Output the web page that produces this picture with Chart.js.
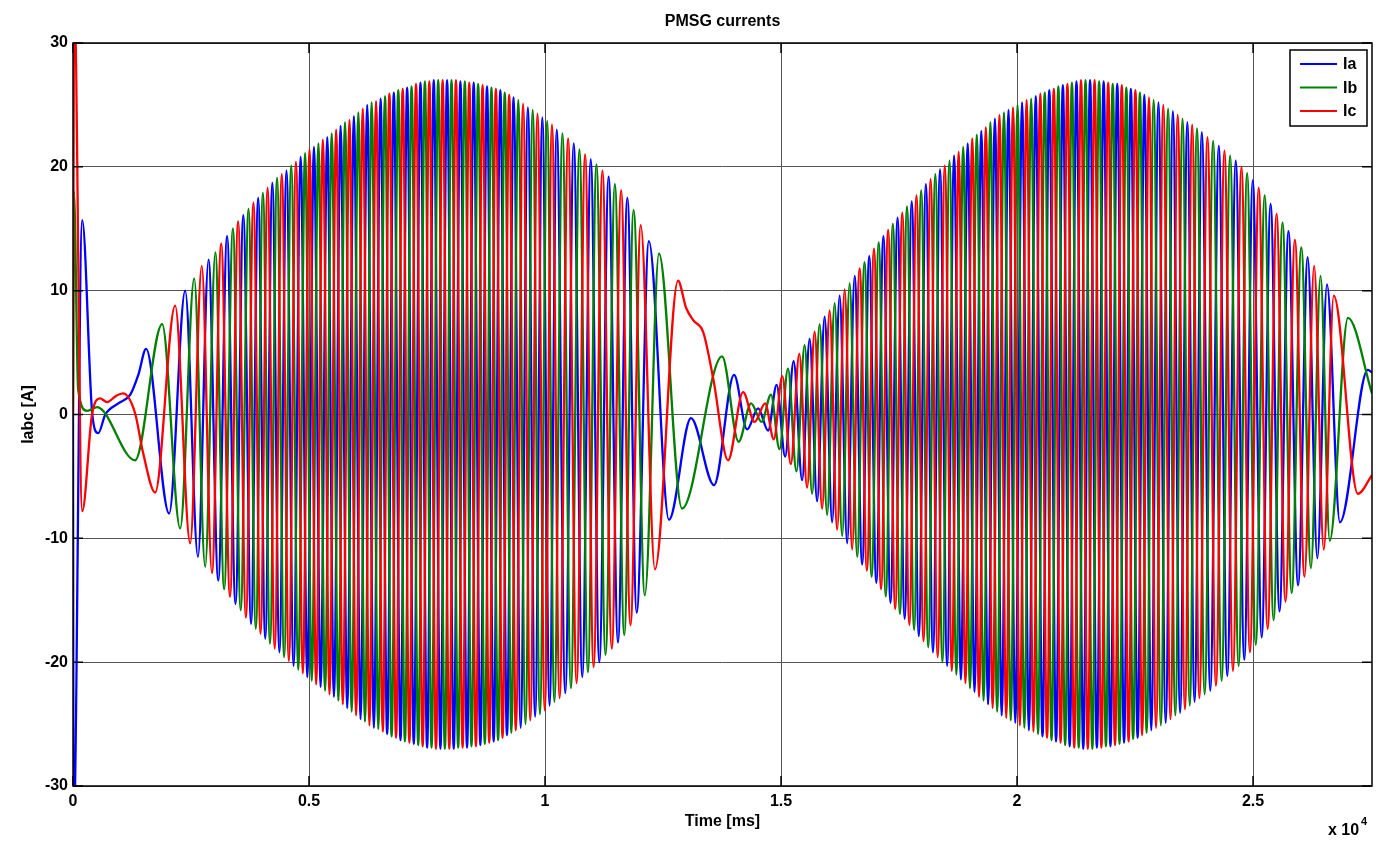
<!DOCTYPE html>
<html>
<head>
<meta charset="utf-8">
<script src="https://cdn.jsdelivr.net/npm/chart.js@4.4.1/dist/chart.umd.min.js"></script>
<style>html,body{margin:0;padding:0;background:#fff}canvas{display:block}</style>
</head>
<body>
<canvas id="chart" width="1376" height="845"></canvas>
<script>
// ── DATA ───────────────────────────────────────────────────────────────────────
// Time in ms, current in A.

const xTicks = [0, 5000, 10000, 15000, 20000, 25000];
const yTicks = [-30, -20, -10, 0, 10, 20, 30];
const phases = ['Ia', 'Ib', 'Ic'];

// start-up transient + odd points per phase (not on the regular peak sequence)
const iaT = [0, 12, 195, 409, 536, 684, 960, 1214, 1384, 27520];
const iaV = [0, -34, 15.7, 0, -1.5, 0, 0.9, 1.6, 3.2, 3.4];
const ibT = [0, 20, 110, 300, 509, 1315, 27520];
const ibV = [0, 18, 2.0, 0.3, 0.6, -3.7, 1.7];
const icT = [0, 25, 195, 403, 573, 722, 912, 1061, 1315, 1485, 12990, 13144, 13356, 13568, 27520];
const icV = [0, 34, -7.8, 0, 1.3, 1.0, 1.5, 1.7, 0.1, -3.1, 8.6, 7.6, 6.6, 2.8, -4.9];

// 1st speed hump: successive peaks of any phase, order Ia+, Ic-, Ib+, Ia-, Ic+, Ib- ...
const seq1Phase = ['Ia', 'Ic', 'Ib'];
const pkT1 = [1549,1740,1889,2037,2164,2271,2377,2483,2568,2648,
  2728,2800,2872,2944,3016,3078,3140,3202,3264,3326,
  3388,3443,3498,3553,3608,3663,3718,3773,3823,3873,
  3923,3973,4023,4073,4123,4173,4223,4273,4323,4373,
  4423,4473,4523,4573,4623,4673,4723,4773,4823,
  4870,4917,4964,5011,5058,5105,5152,5199,5246,5293,
  5340,5387,5434,5481,5528,5575,5622,5669,5716,5763,
  5810,5857,5904,5951,5998,6045,6092,6139,6186,6233,
  6280,6327,6374,6421,6468,6515,6562,6609,6656,6703,
  6750,6797,6844,6891,6938,6985,7032,7079,7126,7173,
  7220,7267,7314,7361,7408,7455,7502,7549,7596,7643,
  7690,7737,7784,7831,7878,7925,7972,8019,8066,8113,
  8160,8207,8254,8301,8348,8395,8442,8489,8536,8583,
  8630,8677,8724,8771,8818,8865,8912,8959,9006,9053,
  9100,9147,9194,9241,9288,9335,9382,
  9433,9484,9535,9586,9637,9688,9739,9790,9841,9892,9943,9994,10045,10096,10147,10198,10249,
  10309,10369,10429,10489,10549,10609,10669,10729,10789,10849,10909,10969,11029,11089,
  11150,11216,11282,11348,11414,11480,11546,11612,11678,11744,11810,11876,11942,
  12028,12114,12200,12329,12414,12626,12817,12902,13092];
const pkV1 = [5.3,-6.3,7.3,-8.0,8.8,-9.2,10.0,-10.4,11.0,-11.5,
  12.0,-12.3,12.5,-12.8,13.1,-13.4,13.8,-14.1,14.4,-14.7,
  15.0,-15.3,15.6,-15.8,16.1,-16.4,16.6,-16.9,17.1,-17.3,
  17.5,-17.7,17.9,-18.1,18.3,-18.5,18.7,-18.9,19.1,-19.2,
  19.4,-19.6,19.7,-19.9,20.1,-20.3,20.4,-20.6,20.8,
  -20.9,21.1,-21.2,21.4,-21.5,21.6,-21.8,21.9,-22.0,22.2,
  -22.3,22.4,-22.6,22.7,-22.8,23.0,-23.1,23.3,-23.4,23.6,
  -23.7,23.8,-24.0,24.1,-24.3,24.4,-24.6,24.7,-24.8,25.0,
  -25.1,25.2,-25.3,25.3,-25.4,25.5,-25.6,25.7,-25.8,25.9,
  -26.0,26.0,-26.1,26.2,-26.3,26.3,-26.4,26.4,-26.5,26.5,
  -26.6,26.7,-26.7,26.8,-26.8,26.9,-26.9,26.9,-26.9,27.0,
  -27.0,27.0,-27.0,27.0,-27.0,27.0,-27.0,27.0,-27.0,27.0,
  -26.9,26.9,-26.9,26.9,-26.9,26.8,-26.8,26.8,-26.8,26.7,
  -26.7,26.6,-26.6,26.5,-26.5,26.4,-26.4,26.3,-26.3,26.2,
  -26.1,26.0,-25.9,25.8,-25.7,25.6,-25.5,
  25.4,-25.3,25.1,-25.0,24.8,-24.7,24.6,-24.4,24.3,-24.2,24.0,-23.9,23.7,-23.5,23.4,-23.2,23.0,
  -22.9,22.7,-22.5,22.3,-22.1,21.9,-21.7,21.4,-21.2,21.0,-20.8,20.6,-20.4,20.2,
  -20.0,19.7,-19.4,19.2,-18.9,18.6,-18.4,18.1,-17.8,17.5,-17.0,16.5,-16.0,
  15.3,-14.6,14.0,-12.5,13.0,-8.5,10.8,-7.6,-0.3];

// 2nd speed hump (rotation reversed): order Ia, Ib, Ic, Ia, Ib, Ic ...
const seq2Phase = ['Ia', 'Ib', 'Ic'];
const pkT2 = [13581,13751,13878,14005,14101,14196,14281,14366,14440,14515,14589,14663,14727,
  14787,14847,14907,14967,15027,15087,15147,15207,15267,15327,15387,15447,
  15500,15553,15606,15659,15712,15765,15818,15871,15924,15977,16030,16083,
  16136,16189,16242,16295,16348,16401,16454,16507,16560,16613,16666,16719,
  16769,16819,16869,16919,16969,17019,17069,17119,17169,17219,17269,17319,17369,17419,17469,17519,17569,17619,17669,
  17719,17769,17819,17869,17919,17969,18019,18069,18119,18169,18219,18269,18319,18369,18419,18469,18519,18569,18619,
  18667,18715,18763,18811,18859,18907,18955,19003,19051,19099,
  19147,19195,19243,19291,19339,19387,19435,19483,19531,19579,
  19627,19675,19723,19771,19819,19867,19915,19963,20011,20059,
  20107,20155,20203,20251,20299,20347,20395,20443,20491,20539,
  20587,20635,20683,20731,20779,20827,20875,20923,20971,21019,
  21067,21115,21163,21211,21259,21307,21355,21403,21451,21499,
  21547,21595,21643,21691,21739,21787,21835,21883,21931,21979,
  22027,22075,22123,22171,22219,22267,22315,22363,22411,22459,
  22507,22555,22603,22651,22699,22747,22795,22843,
  22894,22945,22996,23047,23098,23149,23200,23251,23302,23353,23404,23455,23506,23557,23608,23659,23710,23761,23812,23863,23914,
  23974,24034,24094,24154,24214,24274,24334,24394,24454,24514,24574,24634,24694,24754,24814,24874,24934,24994,
  25057,25120,25183,25246,25309,25372,25435,25498,25561,25624,25687,25750,
  25818,25886,25954,26022,26090,26158,26226,26294,26362,26430,26498,26566,
  26625,26710,26840,27010,27220,27430];
const pkV2 = [-5.7,4.7,-3.7,3.2,-2.2,1.8,-1.2,0.9,-0.6,0.5,-0.6,0.9,-1.3,
  1.6,-2.0,2.4,-2.8,3.1,-3.4,3.7,-4.0,4.3,-4.6,4.9,-5.3,
  5.6,-5.9,6.1,-6.4,6.7,-7.0,7.3,-7.6,7.9,-8.1,8.4,-8.7,
  9.0,-9.3,9.6,-9.8,10.1,-10.4,10.6,-10.9,11.2,-11.5,11.8,-12.1,
  12.3,-12.6,12.8,-13.1,13.4,-13.6,13.9,-14.1,14.4,-14.7,14.9,-15.2,15.4,-15.7,15.9,-16.1,16.3,-16.5,16.8,
  -17.0,17.2,-17.4,17.7,-17.9,18.1,-18.3,18.6,-18.8,19.0,-19.2,19.4,-19.6,19.8,-20.0,20.1,-20.3,20.5,-20.7,
  20.9,-21.0,21.2,-21.4,21.6,-21.7,21.9,-22.1,22.3,-22.4,
  22.6,-22.8,22.9,-23.1,23.2,-23.4,23.6,-23.7,23.9,-24.0,
  24.2,-24.3,24.4,-24.5,24.6,-24.7,24.8,-24.9,25.0,-25.1,
  25.2,-25.3,25.4,-25.5,25.5,-25.6,25.7,-25.8,25.9,-26.0,
  26.0,-26.1,26.2,-26.3,26.3,-26.4,26.5,-26.5,26.6,-26.7,
  26.7,-26.8,26.8,-26.9,26.9,-26.9,27.0,-27.0,27.0,-27.0,
  27.0,-27.0,27.0,-26.9,26.9,-26.9,26.9,-26.8,26.8,-26.8,
  26.7,-26.7,26.7,-26.6,26.6,-26.5,26.4,-26.4,26.3,-26.2,
  26.2,-26.1,26.0,-25.9,25.8,-25.7,25.6,-25.5,
  25.4,-25.3,25.2,-25.1,25.0,-24.9,24.7,-24.6,24.5,-24.3,24.2,-24.1,23.9,-23.8,23.6,-23.5,23.4,-23.2,23.1,-22.9,22.8,
  -22.6,22.4,-22.3,22.1,-21.9,21.7,-21.5,21.3,-21.1,20.9,-20.7,20.5,-20.3,20.0,-19.8,19.5,-19.2,18.9,
  -18.6,18.3,-18.0,17.7,-17.3,17.0,-16.6,16.2,-15.9,15.5,-15.1,14.8,
  -14.4,14.1,-13.8,13.5,-13.1,12.7,-12.4,12.0,-11.6,11.2,-10.9,10.5,
  -10.2,9.6,-8.7,7.8,-6.4,3.6];

// ── BUILD ──────────────────────────────────────────────────────────────────────

const FONT = "'Liberation Sans', Arial, Helvetica, sans-serif";
const colors = { Ia: '#0000ff', Ib: '#008000', Ic: '#ff0000' };

function phasePoints(name, extT, extV) {
  const pts = extT.map((t, i) => ({ x: t, y: extV[i] }));
  pkT1.forEach((t, i) => { if (seq1Phase[i % 3] === name) pts.push({ x: t, y: pkV1[i] }); });
  pkT2.forEach((t, i) => { if (seq2Phase[i % 3] === name) pts.push({ x: t, y: pkV2[i] }); });
  return pts.sort((a, b) => a.x - b.x);
}

const extras = { Ia: [iaT, iaV], Ib: [ibT, ibV], Ic: [icT, icV] };

// frame, inward ticks, title, axis labels, legend (MATLAB look)
const decor = {
  id: 'decor',
  afterDraw(chart) {
    const { ctx, chartArea: a, scales } = chart;
    ctx.save();
    ctx.strokeStyle = '#000';
    ctx.lineWidth = 1.5;
    ctx.beginPath();
    xTicks.forEach(v => {
      const px = scales.x.getPixelForValue(v);
      ctx.moveTo(px, a.bottom); ctx.lineTo(px, a.bottom - 10);
      ctx.moveTo(px, a.top); ctx.lineTo(px, a.top + 10);
    });
    yTicks.forEach(v => {
      const py = scales.y.getPixelForValue(v);
      ctx.moveTo(a.left, py); ctx.lineTo(a.left + 10, py);
      ctx.moveTo(a.right, py); ctx.lineTo(a.right - 10, py);
    });
    ctx.stroke();
    ctx.strokeRect(a.left, a.top, a.right - a.left, a.bottom - a.top);

    const cx = (a.left + a.right) / 2;
    ctx.fillStyle = '#000';
    ctx.textAlign = 'center';
    ctx.textBaseline = 'middle';
    ctx.font = 'bold 16px ' + FONT;
    ctx.fillText('PMSG currents', cx, 22);
    ctx.fillText('Time [ms]', cx, 822);
    ctx.save();
    ctx.translate(29, (a.top + a.bottom) / 2);
    ctx.rotate(-Math.PI / 2);
    ctx.fillText('Iabc [A]', 0, 0);
    ctx.restore();
    ctx.textAlign = 'left';
    ctx.fillText('x 10', 1328, 831);
    ctx.font = 'bold 11px ' + FONT;
    ctx.fillText('4', 1361, 822);

    // legend
    const lx = 1290, ly = 50, lw = 77, lh = 76;
    ctx.fillStyle = '#fff';
    ctx.fillRect(lx, ly, lw, lh);
    ctx.strokeRect(lx, ly, lw, lh);
    ctx.font = 'bold 16px ' + FONT;
    phases.forEach((p, i) => {
      const y = ly + 14 + i * 23.5;
      ctx.strokeStyle = colors[p];
      ctx.lineWidth = 2;
      ctx.beginPath(); ctx.moveTo(lx + 10, y); ctx.lineTo(lx + 47, y); ctx.stroke();
      ctx.fillStyle = '#000';
      ctx.fillText(p, lx + 53, y + 1);
    });
    ctx.restore();
  }
};

const tickFont = { family: FONT, size: 16, weight: 'bold' };

new Chart(document.getElementById('chart'), {
  type: 'line',
  data: {
    datasets: phases.map((p, k) => ({
      label: p,
      data: phasePoints(p, extras[p][0], extras[p][1]),
      borderColor: colors[p],
      order: 3 - k
    }))
  },
  options: {
    responsive: false, animation: false, devicePixelRatio: 1,
    elements: {
      point: { radius: 0 },
      line: { borderWidth: 2.3, cubicInterpolationMode: 'monotone', fill: false }
    },
    layout: { padding: { top: 43, right: 4, left: 0, bottom: 0 } },
    plugins: { legend: { display: false }, tooltip: { enabled: false }, title: { display: false } },
    scales: {
      x: {
        type: 'linear', min: 0, max: 27520,
        afterBuildTicks: s => { s.ticks = xTicks.map(v => ({ value: v })); },
        afterFit: s => { s.height = 59; },
        ticks: { callback: v => String(v / 10000), font: tickFont, color: '#000', padding: 6, maxRotation: 0, autoSkip: false },
        grid: { color: '#555', lineWidth: 1, drawTicks: false },
        border: { display: false }
      },
      y: {
        min: -30, max: 30,
        afterBuildTicks: s => { s.ticks = yTicks.map(v => ({ value: v })); },
        afterFit: s => { s.width = 73; },
        ticks: { font: tickFont, color: '#000', padding: 5 },
        grid: { color: '#555', lineWidth: 1, drawTicks: false },
        border: { display: false }
      }
    }
  },
  plugins: [decor]
});
</script>
</body>
</html>
